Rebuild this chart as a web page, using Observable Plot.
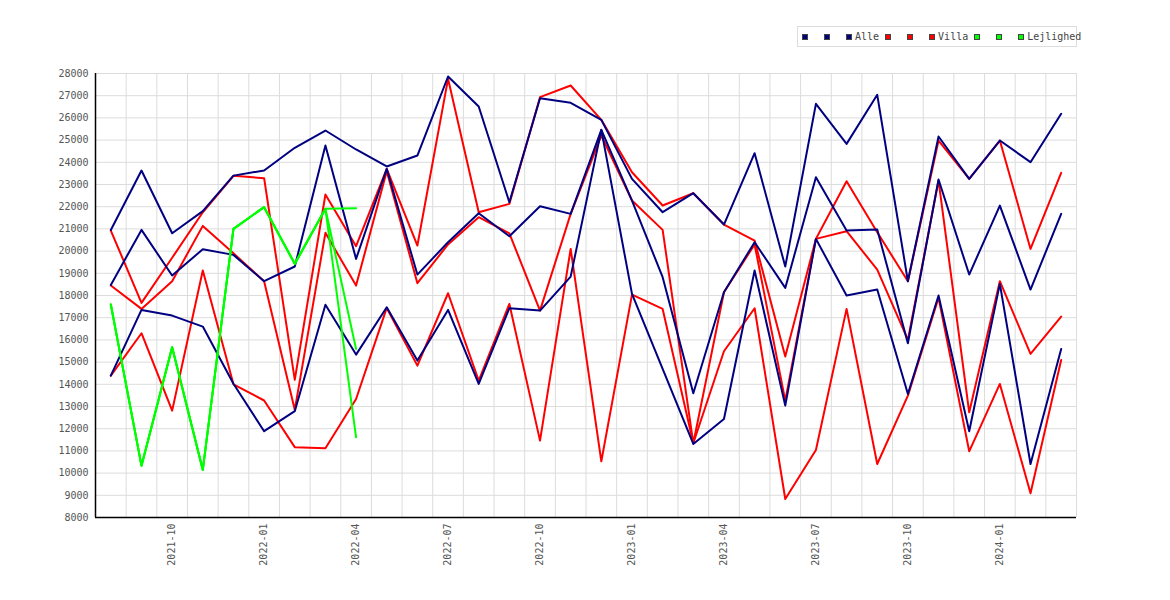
<!DOCTYPE html>
<html>
<head>
<meta charset="utf-8">
<script src="https://cdn.jsdelivr.net/npm/d3@7"></script>
<script src="https://cdn.jsdelivr.net/npm/@observablehq/plot@0.6"></script>
<style>
  body { margin: 0; background: #fff; }
  #wrap { position: relative; width: 1170px; height: 600px; }
  #legend {
    position: absolute; left: 797px; top: 26px; width: 280px; height: 21px;
    border: 1px solid #ddd; box-sizing: border-box; padding-left: 4px;
    display: flex; align-items: center; white-space: nowrap;
    font: 10px "DejaVu Sans Mono", monospace; color: #444; background: #fff;
  }
  .sw { display: inline-block; width: 6px; height: 6px; border: 1px solid #444; box-sizing: border-box; margin-right: 3px; }
</style>
</head>
<body>
<div id="wrap"><div id="legend"></div></div>
<script>
// Months (x categories)
const months = [
  "2021-08","2021-09","2021-10","2021-11","2021-12","2022-01","2022-02","2022-03",
  "2022-04","2022-05","2022-06","2022-07","2022-08","2022-09","2022-10","2022-11",
  "2022-12","2023-01","2023-02","2023-03","2023-04","2023-05","2023-06","2023-07",
  "2023-08","2023-09","2023-10","2023-11","2023-12","2024-01","2024-02","2024-03"
];

// Y tick labels
const yTicks = [8000,9000,10000,11000,12000,13000,14000,15000,16000,17000,18000,19000,20000,21000,22000,23000,24000,25000,26000,27000,28000];

// Alle (navy)
const alle1 = [20950,23630,20805,21800,23400,23631,24653,25432,24577,23811,24305,27865,26513,22202,26889,26678,25912,23254,21752,22608,21196,24410,19304,26633,24831,27039,18643,25161,23254,24981,24005,26183];
const alle2 = [18477,20955,18898,20084,19830,18645,19306,24757,19649,23704,18943,20400,21706,20670,22022,21677,25460,22277,18823,13596,18147,20400,18342,23329,20926,20971,15849,23224,18943,22052,18267,21677];
const alle3 = [14392,17351,17095,16600,14022,11887,12790,17580,15338,17471,15068,17351,14016,17426,17321,18853,25460,18072,14692,11313,12439,19123,13040,20550,17997,18267,13566,17997,11883,18523,10411,15593];

// Villa (red)
const villa1 = [20925,17666,19700,21750,23392,23284,14200,22550,20220,23700,20250,27760,21752,22127,26934,27459,25912,23554,22052,22608,21196,20475,15248,20550,23148,20850,18643,24981,23254,24981,20099,23524];
const villa2 = [18450,17396,18643,21136,19900,18645,12850,20823,18447,23600,18553,20300,21526,20800,17321,21677,25206,22277,20956,11343,18147,20300,13265,20550,20896,19168,15999,23178,12740,18643,15368,17050];
const villa3 = [14390,16300,12815,19123,14000,13270,11168,11120,13340,17440,14842,18102,14166,17621,11463,20099,10532,18042,17396,11343,15488,17426,8834,11043,17396,10411,13491,17900,10982,14016,9090,15098];

// Lejlighed (green) - only through 2022-04
const lejl1 = [17591,10336,15669,10141,21003,21979,19426,21904,21932];
const lejl2 = [17591,10336,15669,10141,21003,21979,19426,21904,15593];
const lejl3 = [17591,10336,15669,10141,21003,21979,19426,21904,11613];

const series = [
  {values: villa1, color: "#ff0000", label: ""},
  {values: villa2, color: "#ff0000", label: ""},
  {values: villa3, color: "#ff0000", label: "Villa"},
  {values: alle1, color: "#000080", label: ""},
  {values: alle2, color: "#000080", label: ""},
  {values: alle3, color: "#000080", label: "Alle"},
  {values: lejl1, color: "#00ff00", label: ""},
  {values: lejl2, color: "#00ff00", label: ""},
  {values: lejl3, color: "#00ff00", label: "Lejlighed"}
];
const legendOrder = [3,4,5,0,1,2,6,7,8];

const xGrid = months.map((m, i) => i + 0.5);
const xTickIdx = months.map((m, i) => i).filter(i => /-(01|04|07|10)$/.test(months[i]));

const chart = Plot.plot({
  width: 1170,
  height: 600,
  marginLeft: 95,
  marginRight: 94,
  marginTop: 73,
  marginBottom: 83,
  x: {type: "linear", domain: [-0.5, months.length - 0.5], axis: null},
  y: {type: "linear", domain: [8000, 28000], axis: null},
  style: {fontFamily: "'DejaVu Sans Mono', monospace", fontSize: "10px", background: "#fff", color: "#555"},
  marks: [
    Plot.gridY(yTicks, {stroke: "#dcdcdc", strokeOpacity: 1, strokeWidth: 1}),
    Plot.gridX(xGrid, {stroke: "#dcdcdc", strokeOpacity: 1, strokeWidth: 1}),
    Plot.axisY(yTicks, {tickSize: 0, tickPadding: 7, tickFormat: "d", fill: "#555"}),
    Plot.axisX(xTickIdx, {tickSize: 0, tickPadding: 6, tickRotate: -90, tickFormat: i => months[i], fill: "#555"}),
    ...series.map(s => Plot.line(s.values, {x: (d, i) => i, y: d => d, stroke: s.color, strokeWidth: 2, strokeLinejoin: "round"})),
    Plot.ruleX([-0.5], {stroke: "#000", strokeWidth: 1.5}),
    Plot.ruleY([8000], {stroke: "#000", strokeWidth: 1.5})
  ]
});
document.getElementById("wrap").prepend(chart);

// Legend
const legend = document.getElementById("legend");
legendOrder.forEach(k => {
  const s = series[k];
  const item = document.createElement("span");
  item.style.display = "inline-flex";
  item.style.alignItems = "center";
  item.style.marginRight = s.label ? "6px" : "13px";
  const sw = document.createElement("span");
  sw.className = "sw";
  sw.style.background = s.color;
  item.appendChild(sw);
  if (s.label) {
    const t = document.createElement("span");
    t.textContent = s.label;
    item.appendChild(t);
  }
  legend.appendChild(item);
});
</script>
</body>
</html>
